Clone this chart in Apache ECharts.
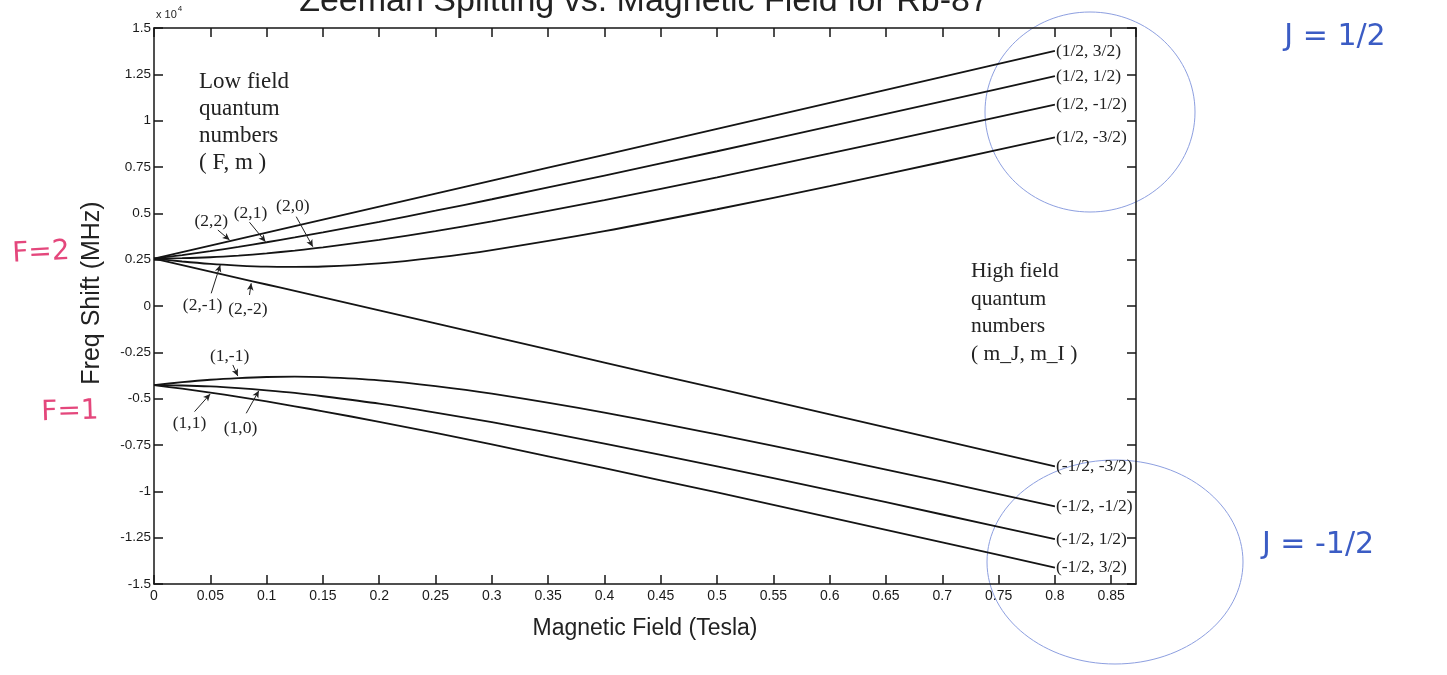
<!DOCTYPE html>
<html><head><meta charset="utf-8">
<script src="https://cdn.jsdelivr.net/npm/echarts@6/dist/echarts.min.js"></script>
<style>html,body{margin:0;padding:0;background:#fff;}#c{width:1447px;height:675px;}</style>
</head><body><div id="c"></div>
<script>
// Magnetic field sample points (Tesla)
const fieldTesla = [0, 0.025, 0.05, 0.075, 0.1, 0.125, 0.15, 0.2, 0.25, 0.3, 0.4, 0.5, 0.6, 0.7, 0.8];
// Frequency shift (MHz, in units of 10^4)
const shift_2_2  = [0.256, 0.291, 0.326, 0.361, 0.396, 0.431, 0.466, 0.536, 0.606, 0.676, 0.816, 0.956, 1.096, 1.236, 1.376];
const shift_2_1  = [0.256, 0.275, 0.296, 0.319, 0.344, 0.370, 0.397, 0.454, 0.514, 0.576, 0.704, 0.835, 0.969, 1.104, 1.240];
const shift_2_0  = [0.256, 0.258, 0.263, 0.272, 0.284, 0.299, 0.316, 0.357, 0.404, 0.457, 0.571, 0.694, 0.823, 0.954, 1.087];
const shift_2_m1 = [0.256, 0.240, 0.227, 0.218, 0.212, 0.211, 0.213, 0.230, 0.261, 0.302, 0.404, 0.522, 0.647, 0.777, 0.910];
const shift_2_m2 = [0.256, 0.221, 0.186, 0.151, 0.116, 0.081, 0.046, -0.024, -0.094, -0.164, -0.305, -0.445, -0.585, -0.725, -0.865];
const shift_1_m1 = [-0.427, -0.411, -0.398, -0.389, -0.383, -0.381, -0.384, -0.401, -0.432, -0.473, -0.575, -0.693, -0.818, -0.948, -1.081];
const shift_1_0  = [-0.427, -0.429, -0.434, -0.443, -0.455, -0.469, -0.487, -0.527, -0.575, -0.627, -0.742, -0.865, -0.993, -1.125, -1.258];
const shift_1_1  = [-0.427, -0.446, -0.467, -0.490, -0.515, -0.541, -0.568, -0.625, -0.685, -0.747, -0.875, -1.006, -1.140, -1.275, -1.411];

const lowFieldNames  = ['(2,2)', '(2,1)', '(2,0)', '(2,-1)', '(2,-2)', '(1,-1)', '(1,0)', '(1,1)'];
const highFieldNames = ['(1/2, 3/2)', '(1/2, 1/2)', '(1/2, -1/2)', '(1/2, -3/2)', '(-1/2, -3/2)', '(-1/2, -1/2)', '(-1/2, 1/2)', '(-1/2, 3/2)'];
const xTickLabels = ['0','0.05','0.1','0.15','0.2','0.25','0.3','0.35','0.4','0.45','0.5','0.55','0.6','0.65','0.7','0.75','0.8','0.85'];
const yTickLabels = ['-1.5','-1.25','-1','-0.75','-0.5','-0.25','0','0.25','0.5','0.75','1','1.25','1.5'];

const titleText = 'Zeeman Splitting vs. Magnetic Field for Rb-87';
const xAxisTitle = 'Magnetic Field (Tesla)';
const yAxisTitle = 'Freq Shift (MHz)';
const lowFieldNote = 'Low field\nquantum\nnumbers\n( F, m )';
const highFieldNote = 'High field\nquantum\nnumbers\n( m_J, m_I )';

// annotation placement (data coordinates): label centre, arrow start, arrow tip
const lowLabelPlacement = [
  {text:'(2,2)',  at:[0.0508, 0.455],  from:[0.0567, 0.410],  to:[0.0671, 0.356]},
  {text:'(2,1)',  at:[0.0857, 0.500],  from:[0.0848, 0.452],  to:[0.0990, 0.347]},
  {text:'(2,0)',  at:[0.1233, 0.536],  from:[0.1263, 0.482],  to:[0.1410, 0.320]},
  {text:'(2,-1)', at:[0.0431, 0.005],  from:[0.0508, 0.0685], to:[0.0588, 0.221]},
  {text:'(2,-2)', at:[0.0833, -0.019], from:[0.0848, 0.0594], to:[0.0863, 0.1225]},
  {text:'(1,-1)', at:[0.0671, -0.274], from:[0.0700, -0.318], to:[0.0744, -0.378]},
  {text:'(1,1)',  at:[0.0315, -0.633], from:[0.0360, -0.570], to:[0.0499, -0.475]},
  {text:'(1,0)',  at:[0.0768, -0.660], from:[0.0819, -0.579], to:[0.0931, -0.457]}
];

const curves = [shift_2_2, shift_2_1, shift_2_0, shift_2_m1, shift_2_m2, shift_1_m1, shift_1_0, shift_1_1];

const chart = echarts.init(document.getElementById('c'), null, {renderer:'canvas'});
const axisCol = '#161616';
const sans = 'Liberation Sans, Arial, sans-serif';
const serif = 'Liberation Serif, Times New Roman, serif';

const series = curves.map((vals, i) => ({
  type: 'line',
  name: lowFieldNames[i],
  data: fieldTesla.map((b, j) => [b, vals[j]]),
  showSymbol: false,
  smooth: 0.25,
  lineStyle: {color: '#141414', width: 1.8},
  endLabel: {show: true, formatter: highFieldNames[i], fontFamily: serif, fontSize: 17.5, color: '#222', distance: 1},
  z: 3
}));
series.push({
  type: 'line', name: 'arrows', data: [], silent: true,
  markLine: {
    silent: true, animation: false,
    symbol: ['none', 'arrow'], symbolSize: [5, 7],
    lineStyle: {color: '#222', width: 1, type: 'solid'},
    label: {show: false},
    data: lowLabelPlacement.map(a => [{coord: a.from}, {coord: a.to}])
  }
});

const xCommon = {type: 'value', min: 0, max: 0.872, interval: 0.05, splitLine: {show: false},
  axisLine: {show: true, onZero: false, lineStyle: {color: axisCol, width: 1.5}},
  axisTick: {show: true, inside: true, length: 9, lineStyle: {color: axisCol, width: 1.5}}};
const yCommon = {type: 'value', min: -1.5, max: 1.5, interval: 0.25, splitLine: {show: false},
  axisLine: {show: true, onZero: false, lineStyle: {color: axisCol, width: 1.5}},
  axisTick: {show: true, inside: true, length: 9, lineStyle: {color: axisCol, width: 1.5}}};

chart.setOption({
  animation: false,
  backgroundColor: '#fff',
  grid: {left: 154, top: 28, width: 982, height: 556},
  xAxis: [
    Object.assign({}, xCommon, {position: 'bottom',
      name: xAxisTitle, nameLocation: 'middle', nameGap: 33,
      nameTextStyle: {fontFamily: sans, fontSize: 23, color: '#222'},
      axisLabel: {show: true, showMaxLabel: false, margin: 5, fontFamily: sans, fontSize: 14, color: '#1a1a1a',
        formatter: v => { const k = Math.round(v / 0.05); return Math.abs(k * 0.05 - v) < 1e-6 ? xTickLabels[k] : ''; }}}),
    Object.assign({}, xCommon, {position: 'top', axisLabel: {show: false}})
  ],
  yAxis: [
    Object.assign({}, yCommon, {position: 'left',
      axisLabel: {show: true, margin: 3, fontFamily: sans, fontSize: 13.5, color: '#1a1a1a',
        formatter: v => yTickLabels[Math.round((v + 1.5) / 0.25)]}}),
    Object.assign({}, yCommon, {position: 'right', axisLabel: {show: false}})
  ],
  series: series
});

const px = p => chart.convertToPixel({gridIndex: 0}, p);
const graphics = [];
graphics.push({type: 'text', x: 644, y: 19, style: {text: titleText, font: '34px ' + sans, fill: '#222', textAlign: 'center', textVerticalAlign: 'bottom'}});
graphics.push({type: 'text', x: 156, y: 20, style: {text: '{a|x 10}{b|4}', rich: {a: {fontFamily: sans, fontSize: 11, fill: '#222', padding: [4,0,0,0]}, b: {fontFamily: sans, fontSize: 8, fill: '#222', verticalAlign: 'top', padding: [0,0,6,1]}}, textVerticalAlign: 'bottom'}});
graphics.push({type: 'text', x: 92, y: 293, rotation: Math.PI / 2, style: {text: yAxisTitle, font: '25px ' + sans, fill: '#222', textAlign: 'center', textVerticalAlign: 'middle'}});
const lowPos = px([0.040, 1.284]);
graphics.push({type: 'text', x: lowPos[0], y: lowPos[1], style: {text: lowFieldNote, font: '23px ' + serif, fill: '#222', lineHeight: 27, textVerticalAlign: 'top'}});
const highPos = px([0.7255, 0.259]);
graphics.push({type: 'text', x: highPos[0], y: highPos[1], style: {text: highFieldNote, font: '21.5px ' + serif, fill: '#222', lineHeight: 27.5, textVerticalAlign: 'top'}});
lowLabelPlacement.forEach(a => {
  const p = px(a.at);
  graphics.push({type: 'text', x: p[0], y: p[1], style: {text: a.text, font: '17.5px ' + serif, fill: '#222', textAlign: 'center', textVerticalAlign: 'middle'}});
});
// handwritten annotations on the scan
graphics.push({type: 'text', x: 41, y: 253, rotation: 0.05, style: {text: 'F=2', font: '28px DejaVu Sans', fill: '#e4477c', textAlign: 'center', textVerticalAlign: 'middle'}});
graphics.push({type: 'text', x: 70, y: 412, rotation: 0.03, style: {text: 'F=1', font: '28px DejaVu Sans', fill: '#e4477c', textAlign: 'center', textVerticalAlign: 'middle'}});
graphics.push({type: 'text', x: 1335, y: 37, style: {text: 'J = 1/2', font: '30px DejaVu Sans', fill: '#3b5cc4', textAlign: 'center', textVerticalAlign: 'middle'}});
graphics.push({type: 'text', x: 1318, y: 545, style: {text: 'J = -1/2', font: '30px DejaVu Sans', fill: '#3b5cc4', textAlign: 'center', textVerticalAlign: 'middle'}});
graphics.push({type: 'ellipse', shape: {cx: 1090, cy: 112, rx: 105, ry: 100}, style: {fill: 'none', stroke: '#8d9fe0', lineWidth: 1}});
graphics.push({type: 'ellipse', shape: {cx: 1115, cy: 562, rx: 128, ry: 102}, style: {fill: 'none', stroke: '#8d9fe0', lineWidth: 1}});
chart.setOption({graphic: graphics});
</script>
</body></html>
